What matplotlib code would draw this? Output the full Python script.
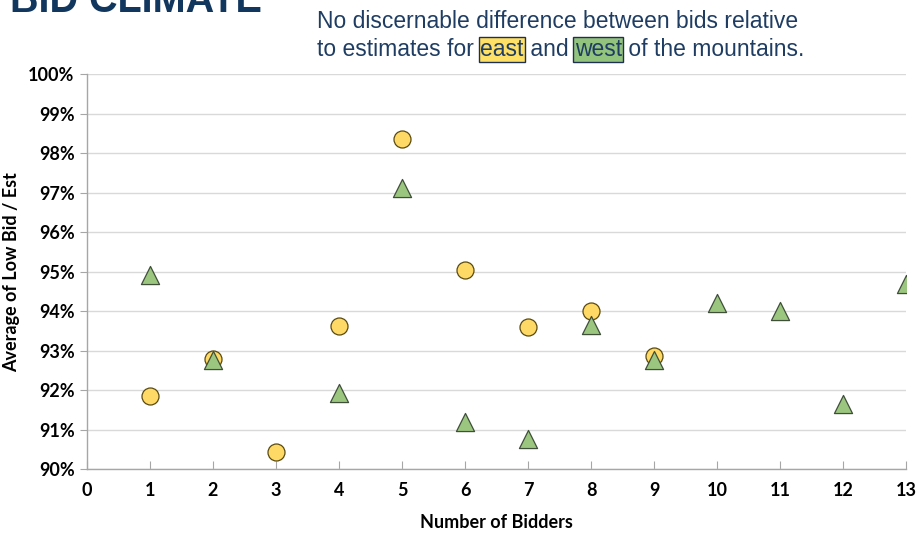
import matplotlib.pyplot as plt
from matplotlib.ticker import FuncFormatter

# bids relative to estimate (%), by number of bidders
east_bidders = [1, 2, 3, 4, 5, 6, 7, 8, 9]
east_pct = [91.85, 92.78, 90.43, 93.62, 98.35, 95.04, 93.60, 94.00, 92.86]

west_bidders = [1, 2, 4, 5, 6, 7, 8, 9, 10, 11, 12, 13]
west_pct = [94.91, 92.76, 91.92, 97.11, 91.19, 90.76, 93.65, 92.76, 94.20, 94.00, 91.65, 94.68]

x_ticks = list(range(0, 14))
y_ticks = list(range(90, 101))

navy = "#1f3d63"
tick_font = "Lato"

fig = plt.figure(figsize=(9.2, 5.33), dpi=100)
ax = fig.add_axes([0.0946, 0.120, 0.8904, 0.741])

ax.scatter(east_bidders, east_pct, s=150, marker="o", facecolor="#FFD966",
           edgecolor="#5a4a10", linewidth=0.9, zorder=3)
ax.scatter(west_bidders, west_pct, s=170, marker="^", facecolor="#9BC67F",
           edgecolor="#3f4f3a", linewidth=0.9, zorder=4)

ax.set_xlim(0, 13)
ax.set_ylim(90, 100)
ax.set_xticks(x_ticks)
ax.set_yticks(y_ticks)
ax.yaxis.set_major_formatter(FuncFormatter(lambda v, p: f"{int(v)}%"))
ax.grid(axis="y", color="#d9d9d9", linewidth=1.0)
ax.set_axisbelow(True)

for s in ["top", "right"]:
    ax.spines[s].set_visible(False)
for s in ["left", "bottom"]:
    ax.spines[s].set_color("#a6a6a6")
    ax.spines[s].set_linewidth(1.0)

ax.tick_params(axis="y", direction="out", length=5, color="#a6a6a6", pad=4)
ax.tick_params(axis="x", direction="in", length=6, color="#a6a6a6", pad=9)
for lab in ax.get_xticklabels() + ax.get_yticklabels():
    lab.set_fontfamily(tick_font)
    lab.set_fontweight("bold")
    lab.set_fontsize(13)

ax.set_xlabel("Number of Bidders", fontfamily=tick_font, fontweight="bold",
              fontsize=13, labelpad=11)
ax.set_ylabel("Average of Low Bid / Est", fontfamily=tick_font, fontweight="bold",
              fontsize=13, labelpad=6)

# title, cut off at the top edge like the slide crop
fig.text(0.011, 1.0 - 12 / 533, "BID CLIMATE", fontsize=28.5, fontweight="bold",
         color="#12375f", fontfamily="Liberation Sans", va="baseline")

# subtitle with highlighted words
sub = dict(fontsize=16.5, color=navy, fontfamily="Liberation Sans")
fig.text(317 / 920, 1 - 28 / 533, "No discernable difference between bids relative",
         va="baseline", **sub)
t = fig.text(317 / 920, 1 - 56 / 533, "to estimates for ", va="baseline", **sub)
t = ax.annotate("east", xy=(1, 0), xycoords=t, va="bottom", ha="left",
                bbox=dict(boxstyle="square,pad=0.05", facecolor="#FFE066",
                          edgecolor="#1f2f50", linewidth=1.0), **sub)
t = ax.annotate(" and ", xy=(1, 0), xycoords=t, va="bottom", ha="left", **sub)
t = ax.annotate("west", xy=(1, 0), xycoords=t, va="bottom", ha="left",
                bbox=dict(boxstyle="square,pad=0.05", facecolor="#93C47D",
                          edgecolor="#1f2f50", linewidth=1.0), **sub)
t = ax.annotate(" of the mountains.", xy=(1, 0), xycoords=t, va="bottom", ha="left", **sub)

fig.savefig("out.png", dpi=100)
